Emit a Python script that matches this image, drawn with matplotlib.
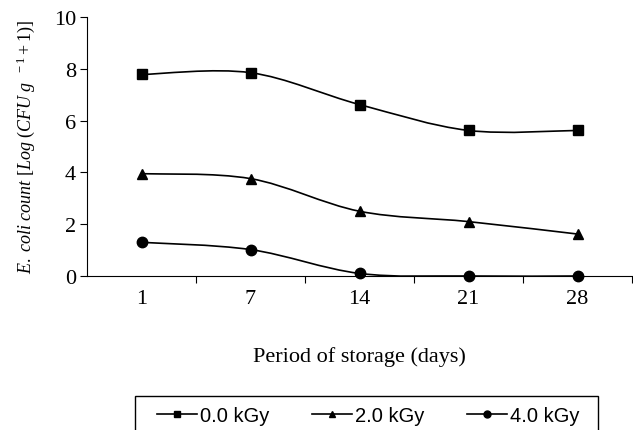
import numpy as np
import matplotlib
matplotlib.use("Agg")
import matplotlib.pyplot as plt
from matplotlib.path import Path
from matplotlib.patches import PathPatch, Rectangle
from matplotlib.lines import Line2D

days = ["1", "7", "14", "21", "28"]
dose_000 = [7.78, 7.85, 6.62, 5.62, 5.62]
dose_200 = [3.95, 3.76, 2.5, 2.1, 1.62]
dose_400 = [1.3, 1.02, 0.1, 0.0, 0.0]
labels = ["0.0 kGy", "2.0 kGy", "4.0 kGy"]
markers = ["s", "^", "o"]


def smooth_path(xs, ys):
    # Excel-style smoothed line: cubic bezier through each point
    pts = np.column_stack([xs, ys]).astype(float)
    ext = np.vstack([pts[0], pts, pts[-1]])
    verts = [pts[0]]
    codes = [Path.MOVETO]
    for i in range(len(pts) - 1):
        p0, p1, p2, p3 = ext[i], ext[i + 1], ext[i + 2], ext[i + 3]
        c1 = p1 + (p2 - p0) / 6.0
        c2 = p2 - (p3 - p1) / 6.0
        verts += [c1, c2, p2]
        codes += [Path.CURVE4] * 3
    return Path(verts, codes)


plt.rcParams["font.family"] = ["Liberation Serif", "DejaVu Serif"]
plt.rcParams["mathtext.fontset"] = "custom"
plt.rcParams["mathtext.rm"] = "Liberation Serif"
plt.rcParams["mathtext.it"] = "Liberation Serif:italic"

fig = plt.figure(figsize=(6.33, 4.31), dpi=100)
ax = fig.add_axes([87 / 633, 1 - 277 / 431, 545 / 633, 259 / 431])

x = np.arange(len(days))
handles = []
for vals, m, lab in zip([dose_000, dose_200, dose_400], markers, labels):
    ax.add_patch(PathPatch(smooth_path(x, vals), facecolor="none",
                           edgecolor="black", lw=1.2, zorder=2))
    ax.plot(x, vals, linestyle="none", marker=m, color="black",
            markersize=7.5, zorder=3, clip_on=False)
    handles.append(Line2D([0], [0], color="black", lw=1.2, marker=m,
                          markersize=5, label=lab))

ax.set_xlim(-0.5, len(days) - 0.5)
ax.set_ylim(0, 10)
ax.set_yticks([0, 2, 4, 6, 8, 10])
ax.set_xticks(x)
ax.set_xticklabels(days)
ax.set_xticks(np.arange(0.5, len(days), 1.0), minor=True)
ax.tick_params(axis="x", which="major", length=0, pad=9, labelsize=16)
ax.tick_params(axis="x", which="minor", length=5, direction="out", width=0.8)
ax.tick_params(axis="y", length=5, direction="out", width=0.8, labelsize=16, pad=3)

for side in ["top", "right"]:
    ax.spines[side].set_visible(False)
ax.spines["left"].set_linewidth(0.8)
ax.spines["bottom"].set_linewidth(0.8)

ax.set_xlabel("Period of storage (days)", fontsize=16, labelpad=28)
ax.set_ylabel(r"$E.\ coli\ count\ [Log\ (CFU\ g\ ^{\ -1}+1)]$", fontsize=13)
ax.yaxis.set_label_coords(-0.092, 0.5)

# legend frame drawn separately so the inner spacing can follow the reference
fig.add_artist(Rectangle((135 / 633, 1 - 434 / 431), 463 / 633, 37 / 431,
                         transform=fig.transFigure, fill=False,
                         edgecolor="black", lw=1.0))
fig.legend(handles=handles, loc="center left",
           bbox_to_anchor=(157 / 633, 1 - 417 / 431),
           ncol=3, frameon=False,
           prop={"family": "Liberation Sans", "size": 14.5},
           handlelength=2.0, handletextpad=0.15, columnspacing=2.1,
           borderpad=0, borderaxespad=0)

fig.savefig("out.png", dpi=100)
